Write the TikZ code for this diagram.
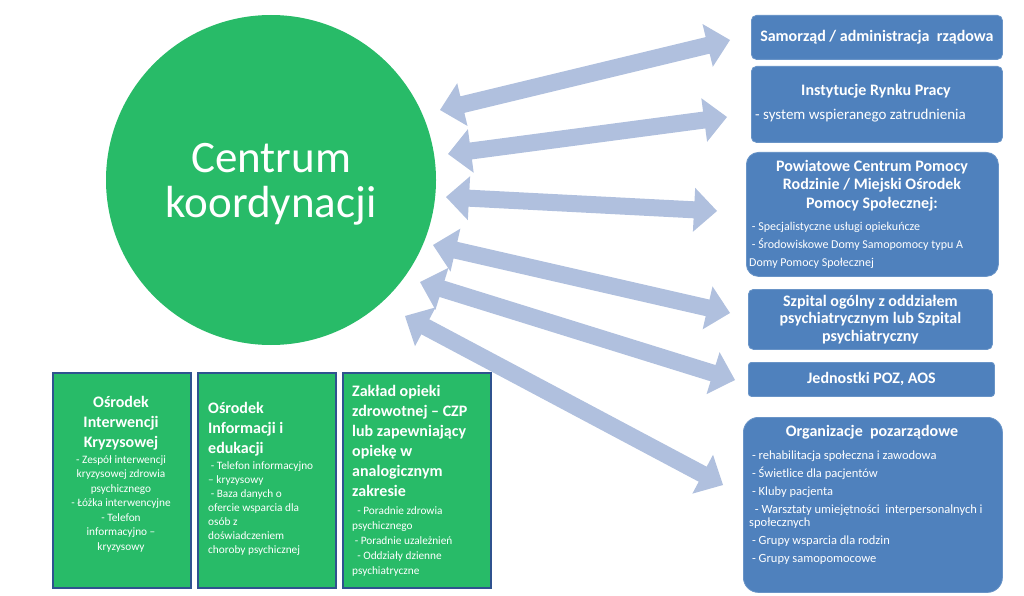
\documentclass[tikz,border=0pt]{standalone}
\usepackage{fontspec}
\setmainfont{Carlito}
\usetikzlibrary{calc}
\definecolor{zielony}{RGB}{40,187,104}
\definecolor{niebieski}{RGB}{79,129,189}
\definecolor{ramka}{RGB}{47,82,143}
\definecolor{strzalka}{RGB}{176,192,222}
\begin{document}
\begin{tikzpicture}[x=1pt, y=-1pt]
\tikzstyle{rbox}=[draw=niebieski!85!white, fill=niebieski, line width=0.8pt, anchor=north west, inner sep=0pt, text=white, align=center, font=\bfseries\fontsize{16}{17.5}\selectfont]
\tikzstyle{gbox}=[draw=ramka, fill=zielony, line width=2.2pt, anchor=north west, inner sep=0pt, minimum height=215pt]
\tikzstyle{headtxt}=[text=white, inner sep=0pt, font=\bfseries\fontsize{16}{20}\selectfont]
\tikzstyle{itemtxt}=[text=white, inner sep=0pt, align=left, anchor=west, font=\fontsize{11.3}{14.5}\selectfont]
\useasboundingbox (0,0) rectangle (1024,596);
% centre
\node[circle, fill=zielony, minimum size=330pt, inner sep=0pt] (centrum) at (271,180) {};
\node[text=white, align=center, inner sep=0pt, font=\fontsize{45}{45}\selectfont] (centrumT) at (271,184) {Centrum\\koordynacji};
% arrows
\coordinate (a1) at (440,110); \coordinate (b1) at (730,40);
\coordinate (a2) at (448,154); \coordinate (b2) at (727,117);
\coordinate (a3) at (446,197); \coordinate (b3) at (717,211);
\coordinate (a4) at (433,245); \coordinate (b4) at (730,313);
\coordinate (a5) at (420,282); \coordinate (b5) at (735,380);
\coordinate (a6) at (405,316); \coordinate (b6) at (723,485);
\foreach \p/\q in {a1/b1, a2/b2, a3/b3, a4/b4, a5/b5, a6/b6}
  \fill[strzalka] (\p) -- ($(\p)!23pt!(\q)!22pt!90:(\q)$) -- ($(\p)!23pt!(\q)!8.5pt!90:(\q)$) -- ($(\q)!23pt!(\p)!8.5pt!-90:(\p)$) -- ($(\q)!23pt!(\p)!22pt!-90:(\p)$) -- (\q) -- ($(\q)!23pt!(\p)!22pt!90:(\p)$) -- ($(\q)!23pt!(\p)!8.5pt!90:(\p)$) -- ($(\p)!23pt!(\q)!8.5pt!-90:(\q)$) -- ($(\p)!23pt!(\q)!22pt!-90:(\q)$) -- cycle;
% right column
\node[rbox, rounded corners=5pt, minimum width=251pt, minimum height=44pt] (samorzad) at (751,15) {Samorząd / administracja\ \ rządowa};
\node[rbox, rounded corners=5pt, minimum width=251pt, minimum height=76pt] (rynek) at (751,66) {};
\node[headtxt] (rynekT) at (876,91) {Instytucje Rynku Pracy};
\node[itemtxt, font=\fontsize{15}{18}\selectfont] (rynekI) at (755,116) {- system wspieranego zatrudnienia};
\node[rbox, rounded corners=12pt, minimum width=252pt, minimum height=124pt] (pcpr) at (746,152) {};
\node[headtxt, align=center, font=\bfseries\fontsize{16}{18.5}\selectfont] (pcprT) at (872,185.5) {Powiatowe Centrum Pomocy\\Rodzinie / Miejski Ośrodek\\Pomocy Społecznej:};
\node[itemtxt, font=\fontsize{12}{18}\selectfont] (pcprI) at (749,245) {\ - Specjalistyczne usługi opiekuńcze\\\ - Środowiskowe Domy Samopomocy typu A\\Domy Pomocy Społecznej};
\node[rbox, rounded corners=5pt, minimum width=244pt, minimum height=60pt] (szpital) at (748,289) {Szpital ogólny z oddziałem\\psychiatrycznym lub Szpital\\psychiatryczny};
\node[rbox, rounded corners=3pt, minimum width=246pt, minimum height=34pt] (poz) at (748,362) {Jednostki POZ, AOS};
\node[rbox, rounded corners=15pt, minimum width=259pt, minimum height=175pt] (ngo) at (743,417) {};
\node[headtxt] (ngoT) at (872,432) {Organizacje\ \ pozarządowe};
\node[itemtxt, font=\fontsize{12.5}{13}\selectfont] (ngoI) at (749,508) {\ - rehabilitacja społeczna i zawodowa\\[5pt]\ - Świetlice dla pacjentów\\[5pt]\ - Kluby pacjenta\\[5pt]\ \ - Warsztaty umiejętności\ \ interpersonalnych i\\społecznych\\[5pt]\ - Grupy wsparcia dla rodzin\\[5pt]\ - Grupy samopomocowe};
% bottom row
\node[gbox, minimum width=138pt] (oik) at (52,372) {};
\node[headtxt, align=center] (oikT) at (121,423) {Ośrodek\\Interwencji\\Kryzysowej};
\node[itemtxt, align=center, anchor=center] (oikI) at (121,503.5) {- Zespół interwencji\\kryzysowej zdrowia\\psychicznego\\- Łóżka interwencyjne\\- Telefon\\informacyjno –\\kryzysowy};
\node[gbox, minimum width=138pt] (oie) at (197,372) {};
\node[headtxt, align=left, anchor=west] (oieT) at (208,429.5) {Ośrodek\\Informacji i\\edukacji};
\node[itemtxt, font=\fontsize{11.3}{14}\selectfont] (oieI) at (208,509) {\ - Telefon informacyjno\\– kryzysowy\\\ - Baza danych o\\ofercie wsparcia dla\\osób z\\doświadczeniem\\choroby psychicznej};
\node[gbox, minimum width=148pt] (zoz) at (342,372) {};
\node[headtxt, align=left, anchor=west] (zozT) at (352,440.5) {Zakład opieki\\zdrowotnej – CZP\\lub zapewniający\\opiekę w\\analogicznym\\zakresie};
\node[itemtxt, font=\fontsize{11.3}{15}\selectfont] (zozI) at (352,541.5) {\ \ - Poradnie zdrowia\\psychicznego\\\ - Poradnie uzależnień\\\ \ - Oddziały dzienne\\psychiatryczne};
\end{tikzpicture}
\end{document}
